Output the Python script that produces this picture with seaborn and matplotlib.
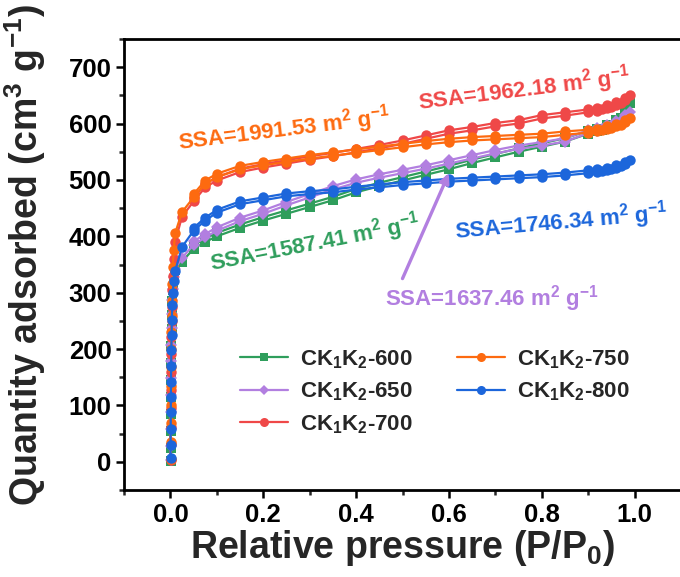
import matplotlib
matplotlib.use("Agg")
import matplotlib.pyplot as plt
import pandas as pd
import seaborn as sns
from matplotlib.lines import Line2D
from matplotlib.ticker import MultipleLocator, FormatStrFormatter

# ---- isotherm data: relative pressure (P/P0) vs quantity adsorbed (cm3/g) ----
p_ads = [0.0002, 0.0004, 0.0006, 0.0008, 0.001, 0.0013, 0.0016, 0.002, 0.0025, 0.003,
         0.004, 0.005, 0.007, 0.01,
         0.025, 0.05, 0.075, 0.1, 0.15, 0.2, 0.25, 0.3, 0.35, 0.4, 0.45, 0.5, 0.55, 0.6,
         0.65, 0.7, 0.75, 0.8, 0.85, 0.9,
         0.92, 0.93, 0.94, 0.95, 0.96, 0.97, 0.98, 0.99]
p_des = [0.98, 0.96, 0.94, 0.92, 0.9, 0.85, 0.8, 0.75, 0.7, 0.65, 0.6, 0.55, 0.5, 0.45,
         0.4, 0.35, 0.3, 0.25, 0.2, 0.15, 0.1, 0.075, 0.05]

ads_600 = [2, 25, 55, 85, 115, 145, 175, 205, 235, 260, 285, 305, 325, 340,
           355, 378, 390, 400, 415, 428, 440, 452, 464, 478, 489, 499, 509, 519,
           530, 540, 550, 559, 568, 582,
           586, 589, 593, 597, 602, 609, 619, 636]
des_600 = [624, 607, 598, 591, 587, 574, 565, 556, 546, 536, 525, 515, 505, 495,
           484, 470, 458, 446, 434, 421, 406, 396, 384]

ads_650 = [3, 28, 58, 88, 118, 148, 178, 208, 238, 262, 287, 307, 327, 342,
           362, 385, 398, 410, 427, 440, 455, 469, 483, 495, 504, 512, 520, 529,
           538, 547, 555, 561, 568, 583,
           587, 590, 593, 596, 600, 605, 611, 620]
des_650 = [615, 605, 598, 592, 588, 574, 567, 561, 553, 544, 535, 526, 518, 510,
           501, 489, 475, 461, 446, 433, 416, 404, 391]

ads_700 = [4, 32, 62, 95, 128, 160, 192, 222, 250, 275, 305, 330, 360, 390,
           435, 462, 487, 499, 514, 522, 529, 536, 542, 549, 556, 564, 573, 582,
           588, 595, 600, 609, 614, 620,
           623, 625, 628, 630, 633, 637, 642, 650]
des_700 = [646, 638, 633, 628, 625, 620, 615, 606, 601, 594, 588, 579, 570, 562,
           555, 548, 542, 535, 528, 520, 505, 493, 468]

ads_750 = [5, 35, 68, 100, 135, 168, 200, 230, 258, 285, 315, 345, 375, 405,
           443, 469, 493, 505, 519, 526, 532, 538, 543, 548, 553, 558, 563, 567,
           570, 572, 574, 576, 580, 584,
           586, 588, 590, 592, 595, 598, 602, 609]
des_750 = [606, 600, 595, 591, 589, 586, 582, 580, 578, 576, 573, 569, 564, 559,
           554, 549, 544, 538, 532, 525, 511, 499, 475]

ads_800 = [6, 30, 58, 88, 115, 142, 170, 198, 225, 252, 278, 300, 320, 338,
           381, 410, 428, 442, 457, 464, 471, 475, 478, 483, 487, 491, 494, 497,
           499, 501, 503, 505, 508, 512,
           514, 515, 517, 519, 521, 524, 528, 535]
des_800 = [532, 526, 522, 519, 517, 513, 510, 508, 506, 504, 502, 499, 496, 492,
           488, 483, 480, 476, 469, 462, 447, 433, 415]

samples = ["CK$_1$K$_2$-600", "CK$_1$K$_2$-650", "CK$_1$K$_2$-700",
           "CK$_1$K$_2$-750", "CK$_1$K$_2$-800"]
ads_all = [ads_600, ads_650, ads_700, ads_750, ads_800]
des_all = [des_600, des_650, des_700, des_750, des_800]
colors = ["#2f9e5c", "#b27fe0", "#ef4848", "#fd6a10", "#1c66db"]
markers = ["s", "D", "o", "o", "o"]
msizes = [6.5, 6.5, 7.5, 7.5, 7.5]

ssa_text = ["SSA=1587.41 m$^2$ g$^{-1}$", "SSA=1637.46 m$^2$ g$^{-1}$",
            "SSA=1962.18 m$^2$ g$^{-1}$", "SSA=1991.53 m$^2$ g$^{-1}$",
            "SSA=1746.34 m$^2$ g$^{-1}$"]

# ---- style ----
sns.set_theme(style="ticks")
plt.rcParams["font.family"] = ["Liberation Sans", "DejaVu Sans"]
plt.rcParams["font.weight"] = "bold"
plt.rcParams["axes.labelweight"] = "bold"
plt.rcParams["mathtext.fontset"] = "custom"
plt.rcParams["mathtext.rm"] = "Liberation Sans:bold"
plt.rcParams["mathtext.bf"] = "Liberation Sans:bold"
plt.rcParams["mathtext.it"] = "Liberation Sans:bold:italic"
plt.rcParams["mathtext.default"] = "rm"

fig = plt.figure(figsize=(6.8, 5.77), dpi=100)
ax = fig.add_axes([124 / 680, 1 - 490 / 577, 557 / 680, 451 / 577])

for name, ya, yd, c, m, ms in zip(samples, ads_all, des_all, colors, markers, msizes):
    d_ads = pd.DataFrame({"p": p_ads, "q": ya})
    d_des = pd.DataFrame({"p": p_des, "q": yd})
    for d in (d_ads, d_des):
        sns.lineplot(data=d, x="p", y="q", sort=False, estimator=None, color=c,
                     marker=m, markersize=ms, markeredgewidth=0, linewidth=1.6,
                     ax=ax, legend=False)

ax.set_xlim(-0.1, 1.1)
ax.set_ylim(-50, 750)
ax.xaxis.set_major_locator(MultipleLocator(0.2))
ax.xaxis.set_minor_locator(MultipleLocator(0.1))
ax.yaxis.set_minor_locator(MultipleLocator(50))
ax.set_yticks(range(0, 701, 100))
ax.xaxis.set_major_formatter(FormatStrFormatter("%.1f"))

for s in ax.spines.values():
    s.set_linewidth(2.0)
    s.set_color("black")
ax.tick_params(which="major", direction="out", length=6, width=1.8, labelsize=18.5,
               colors="black", pad=3)
ax.tick_params(which="minor", direction="out", length=3.5, width=1.8)
ax.tick_params(top=False, right=False, which="both")
for lab in ax.get_xticklabels() + ax.get_yticklabels():
    lab.set_fontweight("bold")

ax.set_xlabel("Relative pressure (P/P$_0$)", fontsize=27, fontweight="bold", labelpad=1)
ax.set_ylabel("Quantity adsorbed (cm$^3$ g$^{-1}$)", fontsize=27, fontweight="bold")
ax.yaxis.label.set_horizontalalignment("left")
ax.yaxis.set_label_coords(-0.136, -0.036)

# surface area annotations
fs = 16
ax.text(0.3125, 388, ssa_text[0], color=colors[0], fontsize=fs, fontweight="bold",
        rotation=11, ha="center", va="center")
ax.text(0.692, 290, ssa_text[1], color=colors[1], fontsize=fs, fontweight="bold",
        ha="center", va="center")
ax.text(0.763, 660, ssa_text[2], color=colors[2], fontsize=fs, fontweight="bold",
        rotation=7, ha="center", va="center")
ax.text(0.245, 590, ssa_text[3], color=colors[3], fontsize=fs, fontweight="bold",
        rotation=7, ha="center", va="center")
ax.text(0.843, 424, ssa_text[4], color=colors[4], fontsize=fs, fontweight="bold",
        rotation=5, ha="center", va="center")
ax.annotate("", xy=(0.6, 512), xytext=(0.5, 325),
            arrowprops=dict(arrowstyle="-|>", color=colors[1], lw=2.4,
                            mutation_scale=14, shrinkA=0, shrinkB=0))

handles = [Line2D([], [], color=c, marker=m, markersize=ms - 1, markeredgewidth=0,
                  linewidth=1.6) for c, m, ms in zip(colors, markers, msizes)]
leg = ax.legend(handles, samples, ncol=2, frameon=False, fontsize=16,
                loc="upper left", bbox_to_anchor=(240 / 680, 1 - 348 / 577),
                bbox_transform=fig.transFigure, borderpad=0, borderaxespad=0,
                handlelength=2.15, handletextpad=0.55, columnspacing=2.0,
                labelspacing=0.45)
for t in leg.get_texts():
    t.set_fontweight("bold")

fig.savefig("out.png", dpi=100)
